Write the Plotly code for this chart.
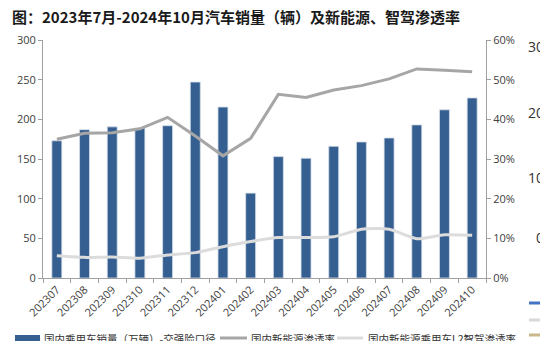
import plotly.graph_objects as go

months = ["202307","202308","202309","202310","202311","202312","202401","202402",
          "202403","202404","202405","202406","202407","202408","202409","202410"]
sales = [173, 187, 190.5, 189, 192, 247, 215.5, 107, 153, 151, 166, 171.5, 176.5, 193, 212, 227]
nev_rate = [35.0, 36.5, 36.6, 37.6, 40.5, 35.8, 30.8, 35.2, 46.3, 45.5, 47.4, 48.5, 50.2, 52.7, 52.4, 52.0]
l2_rate = [5.6, 5.2, 5.3, 5.0, 5.8, 6.4, 7.9, 9.2, 10.2, 10.2, 10.4, 12.3, 12.3, 9.9, 10.9, 10.8]

title_text = "图：2023年7月-2024年10月汽车销量（辆）及新能源、智驾渗透率"
names = ["国内乘用车销量（万辆）-交强险口径", "国内新能源渗透率", "国内新能源乘用车L2智驾渗透率"]
side_labels = ["30", "20", "10", "0"]

W, H = 540, 341
L, R, T, B = 43, 486, 40, 278
def px(x): return (x - L) / (R - L)
def py(y): return (B - y) / (B - T)

BAR_COL, NEV_COL, L2_COL = "#365F91", "#A6A6A6", "#DCDCDC"

fig = go.Figure()
fig.add_trace(go.Bar(x=months, y=sales, name=names[0],
                     marker=dict(color=BAR_COL, line=dict(color="#D5DEEA", width=0.8)), yaxis="y"))
fig.add_trace(go.Scatter(x=months, y=nev_rate, name=names[1], mode="lines",
                         line=dict(color=NEV_COL, width=3), yaxis="y2"))
fig.add_trace(go.Scatter(x=months, y=l2_rate, name=names[2], mode="lines",
                         line=dict(color=L2_COL, width=3, shape="spline", smoothing=0.6), yaxis="y2"))

axis_font = dict(family="Open Sans, Noto Sans CJK SC", size=11, color="#404040")
fig.update_layout(
    width=W, height=H,
    margin=dict(l=L, r=W - R, t=T, b=H - B, autoexpand=False),
    paper_bgcolor="white", plot_bgcolor="white",
    bargap=0.64,
    showlegend=False,
    title=dict(text="<b>" + title_text + "</b>", x=12 / W, xanchor="left", y=1 - 18 / H, yanchor="middle",
               font=dict(family="Noto Sans CJK SC", size=15, color="#1a1a1a")),
    xaxis=dict(type="category", tickangle=-45, tickfont=axis_font, showgrid=False, automargin=False,
               showline=True, linecolor="#A0A0A0", linewidth=1, ticks="outside", tickson="boundaries",
               ticklen=4, tickcolor="#A0A0A0"),
    yaxis=dict(range=[0, 300], dtick=50, tickfont=axis_font, showgrid=False, zeroline=False, automargin=False,
               showline=True, linecolor="#A0A0A0", linewidth=1, ticks="outside", ticklen=4,
               tickcolor="#A0A0A0"),
    yaxis2=dict(range=[0, 60], dtick=10, ticksuffix="%", overlaying="y", side="right", automargin=False,
                tickfont=axis_font, showgrid=False, zeroline=False,
                showline=True, linecolor="#A0A0A0", linewidth=1, ticks="outside", ticklen=4,
                tickcolor="#A0A0A0"),
)

# manual legend at the bottom (partly cut off like the reference)
leg_font = dict(family="Noto Sans CJK SC", size=10.5, color="#333333")
LY = 338
fig.add_shape(type="rect", xref="paper", yref="paper", x0=px(15), x1=px(40), y0=py(LY + 4), y1=py(LY - 3),
              line=dict(width=0), fillcolor=BAR_COL)
fig.add_annotation(text=names[0], xref="paper", yref="paper", x=px(42), y=py(LY), xanchor="left",
                   yanchor="middle", showarrow=False, font=leg_font)
fig.add_shape(type="line", xref="paper", yref="paper", x0=px(220), x1=px(247), y0=py(LY), y1=py(LY),
              line=dict(color=NEV_COL, width=3))
fig.add_annotation(text=names[1], xref="paper", yref="paper", x=px(249), y=py(LY), xanchor="left",
                   yanchor="middle", showarrow=False, font=leg_font)
fig.add_shape(type="line", xref="paper", yref="paper", x0=px(337), x1=px(363), y0=py(LY), y1=py(LY),
              line=dict(color=L2_COL, width=3))
fig.add_annotation(text=names[2], xref="paper", yref="paper", x=px(366), y=py(LY), xanchor="left",
                   yanchor="middle", showarrow=False, font=leg_font)

# neighbouring chart remnants on the right edge
for lbl, yy in zip(side_labels, [46, 112, 178, 238]):
    fig.add_annotation(text=lbl, xref="paper", yref="paper", x=px(546), y=py(yy), xanchor="right",
                       yanchor="middle", showarrow=False,
                       font=dict(family="Open Sans", size=14, color="#333333"))
for col, yy in zip(["#4472C4", "#D9D9D9", "#C9B98A"], [303, 320, 335]):
    fig.add_shape(type="line", xref="paper", yref="paper", x0=px(529), x1=px(545), y0=py(yy), y1=py(yy),
                  line=dict(color=col, width=3))

fig.write_html("out.html")
